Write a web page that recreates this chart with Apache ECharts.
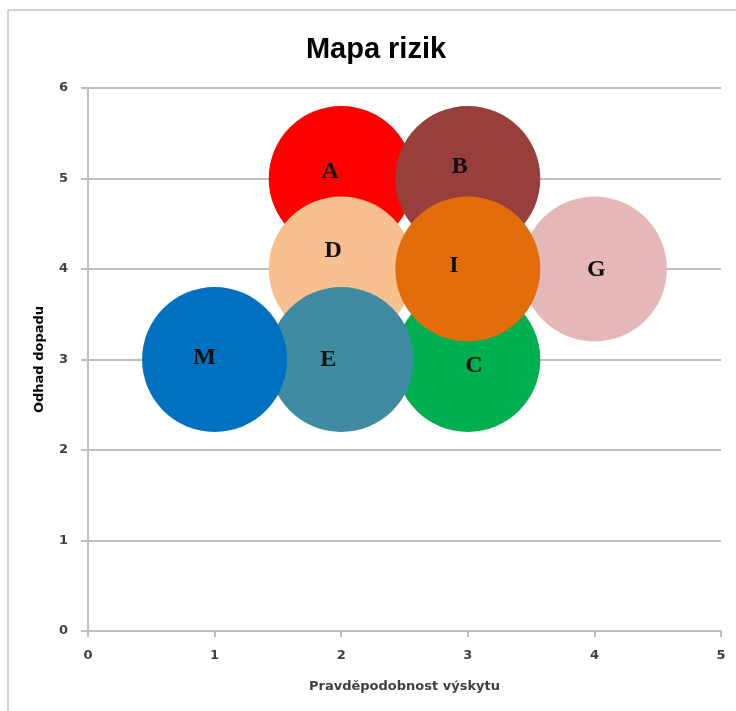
<!DOCTYPE html>
<html>
<head>
<meta charset="utf-8">
<title>Mapa rizik</title>
<script src="https://cdn.jsdelivr.net/npm/echarts@6/dist/echarts.min.js"></script>
<style>
  html, body { margin: 0; padding: 0; background: #ffffff; }
  #chart { width: 736px; height: 711px; }
</style>
</head>
<body>
<div id="chart"></div>
<script>
// Risks: name, probability of occurrence (x) and estimated impact (y)
const riskNames   = ['A', 'B', 'C', 'D', 'E', 'G', 'I', 'M'];
const probability = [2, 3, 3, 2, 2, 4, 3, 1];
const impact      = [5, 5, 3, 4, 3, 4, 4, 3];

// Axis ticks
const xTicks = [0, 1, 2, 3, 4, 5];
const yTicks = [0, 1, 2, 3, 4, 5, 6];

// Bubble fill per risk
const riskColors = ['#FF0000', '#983E3C', '#00B050', '#F9C08F', '#3E8BA2', '#E5B8B7', '#E36C0B', '#0070C0'];
// Small nudges of the letter inside each bubble
const labelOffsets = [[-11, -7], [-8, -12], [6, 6], [-8, -18], [-13, 0], [2, 1], [-14, -3], [-10, -2]];

const gridColor = '#BFBFBF';
const textColor = '#404040';

const series = riskNames.map((name, i) => ({
  type: 'scatter',
  name: name,
  symbol: 'circle',
  symbolSize: 145,
  z: 2 + i,
  itemStyle: { color: riskColors[i], opacity: 1 },
  label: {
    show: true,
    position: 'inside',
    offset: labelOffsets[i],
    formatter: name,
    fontFamily: '"Liberation Serif", "Times New Roman", serif',
    fontWeight: 'bold',
    fontSize: 24,
    color: '#111111'
  },
  emphasis: { disabled: true },
  data: [[probability[i], impact[i]]]
}));

const chart = echarts.init(document.getElementById('chart'), null, { renderer: 'canvas' });
chart.setOption({
  animation: false,
  backgroundColor: '#ffffff',
  title: {
    text: 'Mapa rizik',
    left: 371,
    top: 30,
    textAlign: 'center',
    textStyle: {
      fontFamily: '"Liberation Sans", Arial, sans-serif',
      fontWeight: 'bold',
      fontSize: 29,
      color: '#000000'
    }
  },
  graphic: [{
    type: 'rect',
    silent: true,
    z: -10,
    shape: { x: 8, y: 10, width: 800, height: 800 },
    style: { fill: 'none', stroke: '#C4C4C4', lineWidth: 1.5 }
  }],
  grid: { left: 88, right: 15, top: 88, bottom: 80 },
  xAxis: {
    type: 'value',
    min: xTicks[0],
    max: xTicks[xTicks.length - 1],
    interval: 1,
    name: 'Pravděpodobnost výskytu',
    nameLocation: 'middle',
    nameGap: 49,
    nameTextStyle: {
      fontFamily: '"DejaVu Sans", sans-serif',
      fontWeight: 'bold',
      fontSize: 13,
      color: textColor
    },
    axisLine: { show: true, onZero: false, lineStyle: { color: gridColor, width: 2 } },
    axisTick: { show: true, length: 6, lineStyle: { color: gridColor, width: 2 } },
    axisLabel: {
      margin: 18,
      fontFamily: '"DejaVu Sans", sans-serif',
      fontWeight: 'bold',
      fontSize: 13,
      color: textColor
    },
    splitLine: { show: false }
  },
  yAxis: {
    type: 'value',
    min: yTicks[0],
    max: yTicks[yTicks.length - 1],
    interval: 1,
    name: 'Odhad dopadu',
    nameLocation: 'middle',
    nameGap: 42,
    nameTextStyle: {
      fontFamily: '"DejaVu Sans", sans-serif',
      fontWeight: 'bold',
      fontSize: 13,
      color: '#000000'
    },
    axisLine: { show: true, onZero: false, lineStyle: { color: gridColor, width: 2 } },
    axisTick: { show: true, length: 7, lineStyle: { color: gridColor, width: 2 } },
    axisLabel: {
      margin: 20,
      fontFamily: '"DejaVu Sans", sans-serif',
      fontWeight: 'bold',
      fontSize: 13,
      color: textColor
    },
    splitLine: { show: true, lineStyle: { color: gridColor, width: 2 } }
  },
  series: series
});
</script>
</body>
</html>
